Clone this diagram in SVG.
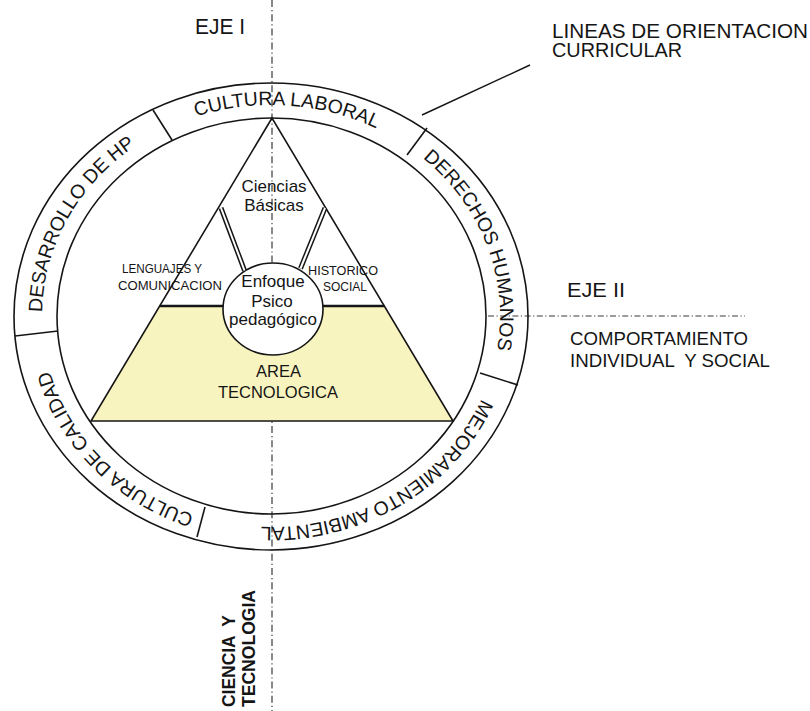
<svg xmlns="http://www.w3.org/2000/svg" width="810" height="711" viewBox="0 0 810 711">
  <defs>
    <style>
      .ln{fill:none;stroke:#151515;stroke-width:1.6}
      .axis{fill:none;stroke:#3a3a3a;stroke-width:1.2;stroke-dasharray:7 3 1.2 3}
      .t{font-family:"Liberation Sans",Arial,sans-serif;fill:#151515}
      .ring{font-size:19.5px}
      .mid{text-anchor:middle}
      .lbl{font-size:20px}
      .inner{font-size:17px}
      .small{font-size:12px}
      .bold{font-weight:bold;font-size:17.5px}
    </style>
    <!-- ellipse traced twice clockwise from the top, used as baseline for ring labels -->
    <path id="ringPath" d="M 271 105 A 229 211 0 0 1 271 527 A 229 211 0 0 1 271 105 A 229 211 0 0 1 271 527 A 229 211 0 0 1 271 105"/>
  </defs>

  <rect width="810" height="711" fill="#ffffff"/>

  <!-- axes -->
  <g id="axes">
    <line class="axis" x1="272" y1="0" x2="272" y2="711"/>
    <line class="axis" x1="488" y1="316" x2="745" y2="316" style="stroke-dasharray:6 2.5 1.2 2.5"/>
  </g>

  <!-- ring of curricular orientation lines -->
  <g id="ring">
    <ellipse class="ln" cx="271" cy="316.5" rx="257" ry="233.5"/>
    <ellipse class="ln" cx="271.5" cy="316" rx="214.5" ry="198"/>
    <line class="ln" x1="153" y1="110" x2="172" y2="140"/>
    <line class="ln" x1="427" y1="128" x2="407" y2="155"/>
    <line class="ln" x1="480" y1="373" x2="518" y2="385"/>
    <line class="ln" x1="205" y1="507" x2="197" y2="537"/>
    <line class="ln" x1="15" y1="336" x2="58" y2="331"/>
  </g>

  <g id="ring-labels" class="t ring">
    <text class="mid"><textPath href="#ringPath" startOffset="1398.6">CULTURA LABORAL</textPath></text>
    <text class="mid"><textPath href="#ringPath" startOffset="271.7">DERECHOS HUMANOS</textPath></text>
    <text class="mid"><textPath href="#ringPath" startOffset="566.2">MEJORAMIENTO AMBIENTAL</textPath></text>
    <text class="mid"><textPath href="#ringPath" startOffset="875.4">CULTURA DE CALIDAD</textPath></text>
    <text class="mid"><textPath href="#ringPath" startOffset="1139.8">DESARROLLO DE HP</textPath></text>
  </g>

  <!-- pyramid of areas -->
  <g id="area-tecnologica">
    <polygon points="159.7,306 384.3,306 453,421 91,421" fill="#f8f4bf"/>
  </g>
  <g id="triangle">
    <polygon class="ln" points="272,118 91,421 453,421"/>
    <line class="ln" x1="159.7" y1="306" x2="384.3" y2="306" style="stroke-width:2.6"/>
  </g>

  <g id="enfoque">
    <ellipse class="ln" cx="273" cy="309" rx="50" ry="46" fill="#ffffff" style="fill:#ffffff"/>
  </g>

  <!-- double links from the circle up to Ciencias Basicas -->
  <g id="links">
    <line x1="221" y1="208" x2="244.5" y2="270.5" stroke="#151515" stroke-width="5"/>
    <line x1="221" y1="208" x2="244.5" y2="270.5" stroke="#ffffff" stroke-width="2"/>
    <line x1="325" y1="208" x2="300.5" y2="268.5" stroke="#151515" stroke-width="5"/>
    <line x1="325" y1="208" x2="300.5" y2="268.5" stroke="#ffffff" stroke-width="2"/>
  </g>

  <g id="inner-labels" class="t">
    <text class="inner mid" x="274" y="192">Ciencias</text>
    <text class="inner mid" x="274" y="211">Básicas</text>
    <text class="small" x="122" y="273" textLength="80" lengthAdjust="spacingAndGlyphs">LENGUAJES Y</text>
    <text class="small" x="118" y="290" textLength="104" lengthAdjust="spacingAndGlyphs">COMUNICACION</text>
    <text class="small" x="308" y="275" textLength="70" lengthAdjust="spacingAndGlyphs">HISTORICO</text>
    <text class="small" x="323" y="291" textLength="44" lengthAdjust="spacingAndGlyphs">SOCIAL</text>
    <text class="inner mid" x="273" y="287">Enfoque</text>
    <text class="inner mid" x="272" y="307">Psico</text>
    <text class="inner mid" x="273" y="325">pedagógico</text>
    <text class="mid" x="278.5" y="377" style="font-size:16.5px">AREA</text>
    <text class="mid" x="278" y="398" style="font-size:16.5px">TECNOLOGICA</text>
  </g>

  <!-- outside labels -->
  <g id="outer-labels" class="t">
    <text x="195" y="33.5" style="font-size:22px" textLength="50" lengthAdjust="spacingAndGlyphs">EJE I</text>
    <text class="lbl" x="552" y="38" textLength="256" lengthAdjust="spacingAndGlyphs">LINEAS DE ORIENTACION</text>
    <text class="lbl" x="552" y="57" textLength="130" lengthAdjust="spacingAndGlyphs">CURRICULAR</text>
    <text x="567" y="297" style="font-size:21px" textLength="58" lengthAdjust="spacingAndGlyphs">EJE II</text>
    <text x="570" y="345" style="font-size:18.5px" textLength="178" lengthAdjust="spacingAndGlyphs">COMPORTAMIENTO</text>
    <text x="570" y="367" style="font-size:18.5px;white-space:pre" textLength="200" lengthAdjust="spacingAndGlyphs">INDIVIDUAL  Y SOCIAL</text>
    <text class="bold" transform="translate(235,707) rotate(-90)" style="white-space:pre" textLength="92" lengthAdjust="spacingAndGlyphs">CIENCIA  Y</text>
    <text class="bold" transform="translate(255,707) rotate(-90)" textLength="117" lengthAdjust="spacingAndGlyphs">TECNOLOGIA</text>
  </g>

  <g id="leader">
    <line class="ln" x1="422" y1="115" x2="530" y2="65" style="stroke-width:1.4"/>
  </g>
</svg>
